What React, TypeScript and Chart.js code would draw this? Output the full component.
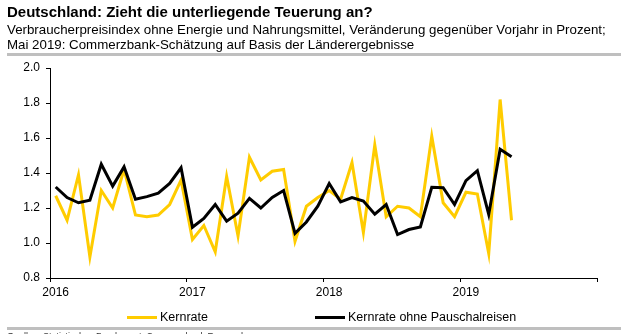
import React, { useEffect, useRef } from "react";
import { Chart, registerables } from "chart.js";

Chart.register(...registerables);

const title = "Deutschland: Zieht die unterliegende Teuerung an?";
const subtitleLines = [
  "Verbraucherpreisindex ohne Energie und Nahrungsmittel, Veränderung gegenüber Vorjahr in Prozent;",
  "Mai 2019: Commerzbank-Schätzung auf Basis der Länderergebnisse",
];
const sourceText = "Quellen: Statistisches Bundesamt, Commerzbank Research";

// monthly, Jan 2016 .. May 2019
const yearLabels = ["2016", "2017", "2018", "2019", ""];
const seriesNames = ["Kernrate", "Kernrate ohne Pauschalreisen"];
const seriesColors = ["#FFCC00", "#000000"];

const kernrate = [
  1.27, 1.13, 1.39, 0.92, 1.3, 1.2, 1.42, 1.16, 1.15, 1.16, 1.22, 1.36,
  1.02, 1.1, 0.95, 1.38, 1.04, 1.49, 1.36, 1.41, 1.42, 1.01, 1.21, 1.26,
  1.3, 1.25, 1.46, 1.06, 1.56, 1.15, 1.21, 1.2, 1.15, 1.61, 1.23, 1.15,
  1.29, 1.28, 0.94, 1.82, 1.13,
];
const kernrateOhne = [
  1.32, 1.26, 1.23, 1.245, 1.45, 1.325, 1.435, 1.25, 1.265, 1.285, 1.34, 1.43,
  1.09, 1.14, 1.22, 1.125, 1.17, 1.255, 1.2, 1.26, 1.3, 1.055, 1.12, 1.21,
  1.34, 1.235, 1.26, 1.24, 1.165, 1.22, 1.048, 1.077, 1.092, 1.318, 1.316, 1.22,
  1.356, 1.413, 1.163, 1.536, 1.493,
];

const yMin = 0.8;
const yMax = 2.0;
const yStep = 0.2;

const FONT = "'Liberation Sans', Arial, Helvetica, sans-serif";

export default function App() {
  const ref = useRef<HTMLCanvasElement | null>(null);

  useEffect(() => {
    document.body.style.margin = "0";
    const canvas = ref.current;
    if (!canvas) return;
    const toPts = (arr: number[]) => arr.map((v, i) => ({ x: i + 0.5, y: v }));
    const chart = new Chart(canvas, {
      type: "line",
      data: {
        datasets: [
          {
            label: seriesNames[0],
            data: toPts(kernrate),
            borderColor: seriesColors[0],
            backgroundColor: seriesColors[0],
            borderWidth: 3,
            pointRadius: 0,
            tension: 0,
            order: 1,
          },
          {
            label: seriesNames[1],
            data: toPts(kernrateOhne),
            borderColor: seriesColors[1],
            backgroundColor: seriesColors[1],
            borderWidth: 3,
            pointRadius: 0,
            tension: 0,
            order: 0,
          },
        ],
      },
      options: {
        responsive: false,
        animation: false,
        layout: { padding: { top: 68, left: 0, right: 31, bottom: 0 } },
        plugins: {
          legend: { display: false },
          tooltip: { enabled: false },
          title: { display: false },
        },
        scales: {
          x: {
            type: "linear",
            min: 0,
            max: (yearLabels.length - 1) * 12,
            afterFit: (s: any) => {
              s.height = 56;
            },
            afterBuildTicks: (s: any) => {
              s.ticks = yearLabels.map((_, i) => ({ value: i * 12 }));
            },
            ticks: {
              color: "#000",
              font: { family: FONT, size: 12 },
              padding: 3,
              labelOffset: 5.7,
              maxRotation: 0,
              autoSkip: false,
              callback: (v: any) => yearLabels[Math.round(Number(v) / 12)] ?? "",
            },
            grid: {
              display: true,
              drawOnChartArea: false,
              drawTicks: true,
              tickLength: 4,
              color: "#000",
            },
            border: { display: true, color: "#000", width: 1 },
          },
          y: {
            type: "linear",
            min: yMin,
            max: yMax,
            afterFit: (s: any) => {
              s.width = 50;
            },
            ticks: {
              stepSize: yStep,
              color: "#000",
              font: { family: FONT, size: 12 },
              padding: 6,
              callback: (v: any) => Number(v).toFixed(1),
            },
            grid: {
              display: true,
              drawOnChartArea: false,
              drawTicks: true,
              tickLength: 4,
              color: "#000",
            },
            border: { display: true, color: "#000", width: 1 },
          },
        },
      },
    });
    return () => chart.destroy();
  }, []);

  const legendItems = [
    { name: seriesNames[0], color: seriesColors[0], left: 127 },
    { name: seriesNames[1], color: seriesColors[1], left: 315 },
  ];

  return (
    <div
      style={{
        position: "relative",
        width: 628,
        height: 334,
        overflow: "hidden",
        background: "#fff",
        fontFamily: FONT,
        color: "#000",
      }}
    >
      <canvas ref={ref} width={628} height={334} style={{ position: "absolute", left: 0, top: 0 }} />
      <div style={{ position: "absolute", left: 7, top: 3, fontSize: 15, fontWeight: "bold", lineHeight: "17px", whiteSpace: "nowrap" }}>
        {title}
      </div>
      {subtitleLines.map((t, i) => (
        <div
          key={i}
          style={{ position: "absolute", left: 7, top: 22 + i * 15, fontSize: 13.3, lineHeight: "16px", whiteSpace: "nowrap" }}
        >
          {t}
        </div>
      ))}
      <div style={{ position: "absolute", left: 7, top: 53, width: 614, height: 3, background: "#BFBFBF" }} />
      {legendItems.map((it, i) => (
        <div key={i} style={{ position: "absolute", left: it.left, top: 309, height: 16, display: "flex", alignItems: "center", whiteSpace: "nowrap", fontSize: 12.5 }}>
          <div style={{ width: 30, height: 3, background: it.color, marginRight: 3 }} />
          <span>{it.name}</span>
        </div>
      ))}
      <div style={{ position: "absolute", left: 7, top: 327, width: 614, height: 3, background: "#BFBFBF" }} />
      <div style={{ position: "absolute", left: 7, top: 331, fontSize: 9, lineHeight: "11px", whiteSpace: "nowrap", color: "#333" }}>
        {sourceText}
      </div>
    </div>
  );
}
